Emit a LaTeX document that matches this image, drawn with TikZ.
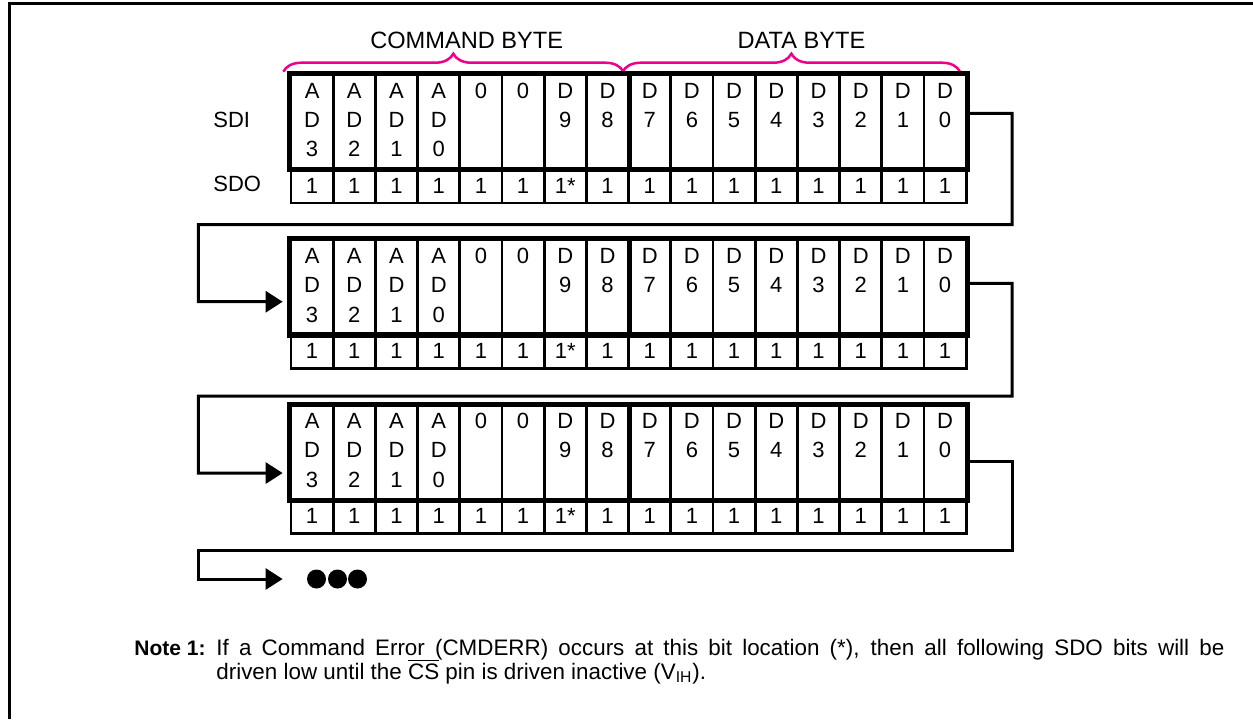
\documentclass[tikz,border=0pt]{standalone}
\usepackage{fontspec}
\setmainfont{Liberation Sans}
\usepackage{xcolor}
\usepackage{tikz}
\usetikzlibrary{arrows.meta, positioning, decorations.pathreplacing}

\begin{document}
\begin{tikzpicture}[
  x=0.5pt, y=-0.5pt,
  sdicell/.style={rectangle, draw, line width=1.35pt, inner sep=0pt,
                  minimum width=21.1pt, minimum height=46.85pt},
  sdocell/.style={rectangle, draw, line width=1.35pt, inner sep=0pt,
                  minimum width=21.1pt, minimum height=17.25pt,
                  font=\fontsize{11}{13}\selectfont},
  thickbox/.style={draw, line width=2.5pt},
  bittext/.style={inner sep=0pt, anchor=base, font=\fontsize{11}{13}\selectfont},
  siglabel/.style={inner sep=0pt, anchor=base west, font=\fontsize{11}{13}\selectfont},
  bytelabel/.style={inner sep=0pt, anchor=base, font=\fontsize{11.8}{14}\selectfont},
  bytebrace/.style={draw=magenta, line width=1.25pt, decorate,
                    decoration={brace, amplitude=9pt}},
  wire/.style={draw, line width=1.5pt},
  flow/.style={wire, -{Triangle[length=8.5pt, width=10.5pt]}, shorten >=3.5pt},
  dot/.style={circle, fill, inner sep=0pt, minimum size=9.5pt},
  notetext/.style={inner sep=0pt, anchor=base west, font=\fontsize{11.2}{13}\selectfont},
]
  \useasboundingbox (0,0) rectangle (1253,719);

  % frame
  \draw[line width=1.5pt] (9.5,719) -- (9.5,3.3) -- (1253,3.3);

  % byte braces
  \draw[bytebrace] (283.3,71.7) -- (623.3,71.7);
  \draw[bytebrace] (622.7,71.7) -- (960,71.7);
  \node[bytelabel] (cmdbyte) at (466.7,48.3) {COMMAND BYTE};
  \node[bytelabel] (databyte) at (801.5,48.3) {DATA BYTE};

  \node[siglabel] (sdi) at (213,127.3) {SDI};
  \node[siglabel] (sdo) at (213,191.7) {SDO};

  % three copies of the 16-bit frame
  \foreach \b/\yo in {1/74.8, 2/240.1, 3/405.4} {
    \foreach \ta/\tb/\tc/\td [count=\i from 0] in {A/D/3/1, A/D/2/1, A/D/1/1, A/D/0/1,
        0///1, 0///1, D/9//1*, D/8//1, D/7//1, D/6//1, D/5//1, D/4//1,
        D/3//1, D/2//1, D/1//1, D/0//1} {
      \node[sdicell] (sdi\b-\i) at ({312.1+42.2*\i},{\yo+46.85}) {};
      \node[sdocell] (sdo\b-\i) at ({312.1+42.2*\i},{\yo+110.95}) {\td};
      \node[bittext] (ta\b-\i) at ({312.1+42.2*\i},{\yo+23.5}) {\ta};
      \node[bittext] (tb\b-\i) at ({312.1+42.2*\i},{\yo+52.5}) {\tb};
      \node[bittext] (tc\b-\i) at ({312.1+42.2*\i},{\yo+82}) {\tc};
    }
    \draw[thickbox] (sdi\b-0.north west) rectangle (sdi\b-15.south east);
    \draw[thickbox] (sdi\b-7.north east) -- (sdi\b-7.south east);
  }

  \node[dot] (dot1) at (316.5,579) {};
  \node[dot] (dot2) at (337.5,579) {};
  \node[dot] (dot3) at (357.5,579) {};

  % SDO of one frame runs on into the next
  \draw[flow] ([yshift=4.2pt]sdi1-15.east) -| (1012,224.7) -| (198.3,301.7)
              -- ([yshift=-7.4pt]sdi2-0.west);
  \draw[flow] ([yshift=1.8pt]sdi2-15.east) -| (1012,396) -| (198.3,473)
              -- ([yshift=-10.4pt]sdi3-0.west);
  \draw[flow, shorten >=12pt] ([yshift=-4.4pt]sdi3-15.east) -| (1012,550.5)
              -| (198.3,579) -- (dot1.west);

  % note
  \node[notetext, font=\fontsize{10.5}{13}\selectfont\bfseries] (notelbl) at (134,655) {Note 1:};
  \node[notetext] (notea) at (216,655)
    {\makebox[504pt][s]{If a Command Error (CMDERR) occurs at this bit location (*), then all following SDO bits will be}};
  \node[notetext] (noteb) at (216,679)
    {driven low until the $\overline{\mbox{CS}}$ pin is driven inactive (V\textsubscript{IH}).};
\end{tikzpicture}
\end{document}
